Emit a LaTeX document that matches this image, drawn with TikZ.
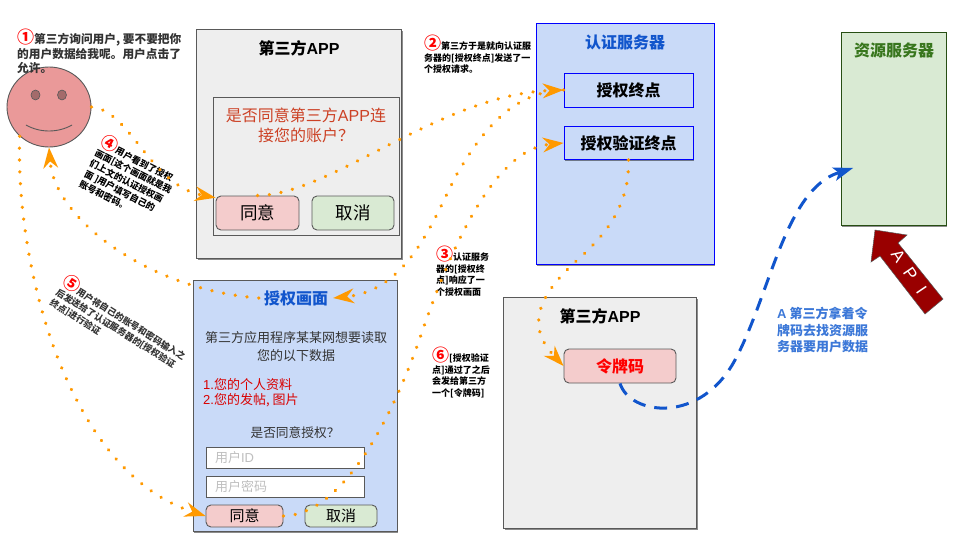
\documentclass[tikz,border=0pt]{standalone}
\usepackage{fontspec}
\setmainfont{Noto Sans CJK SC}
\newfontfamily\lat{Liberation Sans}
\usetikzlibrary{arrows.meta,shapes.geometric,shadows,calc}
\newcommand{\fz}[2]{\fontsize{#1}{#2}\selectfont}
\definecolor{orangeD}{HTML}{FF9900}
\definecolor{blueL}{HTML}{C9DAF8}
\definecolor{blueT}{HTML}{1155CC}
\definecolor{blueA}{HTML}{3C78D8}
\definecolor{greenL}{HTML}{D9EAD3}
\definecolor{greenT}{HTML}{38761D}
\definecolor{greenB}{HTML}{274E13}
\definecolor{redL}{HTML}{F4CCCC}
\definecolor{redD}{HTML}{990000}
\definecolor{greyL}{HTML}{EEEEEE}
\definecolor{greyB}{HTML}{595959}
\definecolor{faceC}{HTML}{EA9999}
\definecolor{redT}{HTML}{CC4125}
\definecolor{txtD}{HTML}{333333}
\tikzset{
  sh/.style={drop shadow={shadow xshift=1pt,shadow yshift=-1.5pt,opacity=.45,fill=black}},
  panel/.style={draw=greyB,line width=.9pt,inner sep=0pt},
  btnbox/.style={panel,rounded corners=5pt,text=black},
  fieldbox/.style={panel,fill=white,text=black!25,align=left,text width=140pt,font=\fz{13}{15}},
  title/.style={font=\bfseries\fz{16}{19},inner sep=5pt},
  dots/.style={draw=orangeD,line width=3.6pt,line cap=round,dash pattern=on .05pt off 11.8pt,
     -{Stealth[length=21pt,width=15pt,inset=7pt,fill=orangeD,round=false,line width=0pt]}},
  dashedblue/.style={draw=blueT,line width=3pt,dash pattern=on 13pt off 9pt,
     -{Stealth[length=20pt,width=14pt,inset=5pt,line width=0pt]}},
  note/.style={inner sep=0pt,align=left,font=\bfseries\fz{9}{11.6}},
}
\newcommand{\numm}[1]{{\color{red}\fz{17}{11}#1}}
\begin{document}
\begin{tikzpicture}[x=1pt,y=-1pt]
\useasboundingbox[fill=white] (0,0) rectangle (960,540);

% face
\node[ellipse,draw=greyB,fill=faceC,line width=.9pt,minimum width=84pt,minimum height=80pt,inner sep=0pt] (face) at (49,107) {};
\node[ellipse,draw=greyB,fill=faceC!70!black,line width=.6pt,minimum width=9pt,minimum height=10pt,inner sep=0pt] (eyeL) at (35.5,95) {};
\node[ellipse,draw=greyB,fill=faceC!70!black,line width=.6pt,minimum width=9pt,minimum height=10pt,inner sep=0pt] (eyeR) at (62,95) {};
\draw[greyB,line width=.9pt] (26,125) .. controls (40,133) and (58,133) .. (72,125);

% first third-party app
\node[panel,sh,fill=greyL,minimum width=205pt,minimum height=229pt] (app1) at (299,144) {};
\node[title] (app1t) at (299,48) {第三方{\lat APP}};
\node[panel,fill=greyL,minimum width=186pt,minimum height=138pt] (dlg) at (306,166) {};
\node[text=redT,align=center,font=\fz{16}{19.5},inner sep=0pt] (dlgt) at (306,125.5) {是否同意第三方{\lat APP}连\\接您的账户？};
\node[btnbox,fill=redL,minimum width=83pt,minimum height=34pt,font=\fz{17.5}{20}] (agree1) at (257.5,213) {同意};
\node[btnbox,fill=greenL,minimum width=82pt,minimum height=34pt,font=\fz{17.5}{20}] (cancel1) at (353,213) {取消};

% auth server
\node[sh,draw=blue,fill=blueL,line width=.9pt,inner sep=0pt,minimum width=178pt,minimum height=241pt] (auth) at (625,144) {};
\node[title,text=blueT] (autht) at (625,42) {认证服务器};
\node[sh,draw=blue,fill=blueL,line width=.9pt,inner sep=0pt,minimum width=129pt,minimum height=34pt,font=\bfseries\fz{16}{19}] (ep1) at (628.5,90) {授权终点};
\node[sh,draw=blue,fill=blueL,line width=.9pt,inner sep=0pt,minimum width=129pt,minimum height=33pt,font=\bfseries\fz{16}{19}] (ep2) at (628.5,143) {授权验证终点};

% resource server
\node[sh,draw=greenB,fill=greenL,line width=.9pt,inner sep=0pt,minimum width=105pt,minimum height=193pt] (res) at (893.5,128.5) {};
\node[title,text=greenT] (rest) at (894,50) {资源服务器};
\coordinate (restip) at (853,168);

% API arrow
\draw[fill=redD,draw=greyB,line width=.5pt] (875,230) -- (907,235) -- (898,243) -- (943,299) -- (925,314) -- (880,256) -- (871,262) -- cycle;
\node[rotate=-56,text=white,font=\lat\fz{17}{19},inner sep=0pt] (api) at (909,272) {A\hspace{10pt}P\hspace{12pt}I};

% second third-party app
\node[panel,sh,fill=greyL,minimum width=193pt,minimum height=231pt] (app2) at (600,412.5) {};
\node[title] (app2t) at (600,316) {第三方{\lat APP}};
\node[btnbox,fill=redL,text=red,minimum width=112pt,minimum height=34pt,font=\bfseries\fz{16}{18}] (token) at (620,366) {令牌码};

% auth screen
\node[panel,sh,fill=blueL,minimum width=204pt,minimum height=251pt] (scr) at (295,405.5) {};
\node[title,text=blueT] (scrt) at (296,298) {授权画面};
\node[align=center,inner sep=0pt,font=\fz{13}{17.5},text=txtD] (scrd) at (296,346.5) {第三方应用程序某某网想要读取\\您的以下数据};
\node[anchor=west,align=left,inner sep=0pt,font=\fz{13}{15.5},text=red!85!black] (scrl) at (203,392.5) {{\lat 1.}您的个人资料\\{\lat 2.}您的发帖, 图片};
\node[inner sep=0pt,font=\fz{12.7}{15},text=txtD] (scrq) at (295,433) {是否同意授权？};
\node[fieldbox,minimum width=158pt,minimum height=21pt] (f1) at (285,457.5) {用户{\lat ID}};
\node[fieldbox,minimum width=158pt,minimum height=21pt] (f2) at (285,486.5) {用户密码};
\node[btnbox,fill=redL,minimum width=77pt,minimum height=22pt,font=\fz{15}{18}] (agree2) at (244.5,516) {同意};
\node[btnbox,fill=greenL,minimum width=72pt,minimum height=22pt,font=\fz{15}{18}] (cancel2) at (341,516) {取消};

% annotations
\node[anchor=north west,inner sep=0pt,align=left,text=txtD,font=\bfseries\fz{11.7}{14.6}] (n1) at (17,29) {\numm{①}第三方询问用户, 要不要把你\\的用户数据给我呢。用户点击了\\允许。};
\node[note,anchor=north west] (n2) at (424,35) {\numm{②}第三方于是就向认证服\\务器的[授权终点]发送了一\\个授权请求。};
\node[note,anchor=north west] (n3) at (436,246) {\numm{③}认证服务\\器的[授权终\\点]响应了一\\个授权画面};
\node[note,anchor=north west] (n6) at (432,347) {\numm{⑥}[授权验证\\点]通过了之后\\会发给第三方\\一个[令牌码]};
\node[note,anchor=north west,rotate=-27] (n4) at (106,132) {\numm{④}用户看到了授权\\画面[这个画面就是我\\们上文的认证授权画\\面 ]用户填写自己的\\账号和密码。};
\node[note,anchor=north west,rotate=-32,text=txtD] (n5) at (69,272) {\numm{⑤}用户将自己的账号和密码输入之\\后发送给了认证服务器的[授权验证\\终点]进行验证};
\node[anchor=north west,inner sep=0pt,align=left,text=blueA,font=\bfseries\fz{13}{16.5}] (nA) at (777,307) {{\lat A} 第三方拿着令\\牌码去找资源服\\务器要用户数据};

% connectors
\draw[dots] (face.east) .. controls (130,110) and (150,185) .. (agree1.160);
\draw[dots] (agree1.north) .. controls (330,195) and (440,95) .. (ep1.west);
\draw[dots] (ep1.west) .. controls (510,92) and (480,135) .. (457,174) .. controls (435,215) and (410,290) .. (scrt.east);
\draw[dots] (scrt.west) .. controls (150,290) and (55,220) .. (face.south);
\draw[dots] (face.225) .. controls (15,260) and (65,470) .. (agree2.west);
\draw[dots] (agree2.east) .. controls (340,515) and (390,425) .. (421,335) .. controls (445,265) and (490,150) .. (ep2.west);
\draw[dots] (ep2.south) .. controls (630,210) and (600,240) .. (574,263) .. controls (540,295) and (525,325) .. (token.west);
\draw[dashedblue] (token.south) .. controls (630,415) and (700,425) .. (735,360) .. controls (770,295) and (785,190) .. (restip);
\end{tikzpicture}
\end{document}
